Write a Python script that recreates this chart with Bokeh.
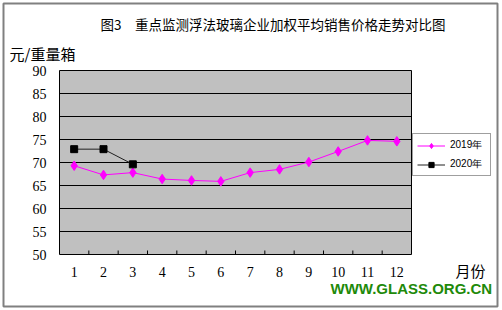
import math
from bokeh.plotting import figure
from bokeh.models import Legend, LegendItem, Range1d, ColumnDataSource
from bokeh.core.properties import value
from bokeh.embed import file_html
from bokeh.resources import INLINE

# ---------------- data ----------------
months = [1, 2, 3, 4, 5, 6, 7, 8, 9, 10, 11, 12]
month_labels = ["1", "2", "3", "4", "5", "6", "7", "8", "9", "10", "11", "12"]
price_2019 = [69.3, 67.3, 67.8, 66.4, 66.1, 65.9, 67.8, 68.5, 70.1, 72.4, 74.8, 74.6]
months_2020 = [1, 2, 3]
price_2020 = [72.9, 72.9, 69.6]
y_ticks = [50, 55, 60, 65, 70, 75, 80, 85, 90]
y_tick_labels = ["50", "55", "60", "65", "70", "75", "80", "85", "90"]
series_names = ["2019年", "2020年"]

title_text = "图3　重点监测浮法玻璃企业加权平均销售价格走势对比图"
unit_text = "元/重量箱"
xunit_text = "月份"
watermark = "WWW.GLASS.ORG.CN"

# ---------------- layout (page pixels) ----------------
W, H = 502, 310
PL, PR, PT, PB = 59, 411, 70, 254          # grey plotting area edges in px
x_lo, x_hi = months[0] - 0.5, months[-1] + 0.5
y_lo, y_hi = y_ticks[0], y_ticks[-1]
kx = (PR - PL) / (x_hi - x_lo)             # px per month
ky = (PB - PT) / (y_hi - y_lo)             # px per unit

p = figure(width=W, height=H, output_backend="svg", toolbar_location=None,
           x_range=Range1d(x_lo - PL / kx, x_hi + (W - PR) / kx),
           y_range=Range1d(y_lo - (H - PB) / ky, y_hi + PT / ky),
           x_axis_location=None, y_axis_location=None,
           min_border=0, min_border_left=0, min_border_right=0,
           min_border_top=0, min_border_bottom=0)
p.outline_line_color = None
p.background_fill_color = "white"
p.border_fill_color = "white"
p.xgrid.visible = False
p.ygrid.visible = False

def sx(px):
    return x_lo + (px - PL) / kx

def sy(py):
    return y_lo + (PB - py) / ky

# outer frame of the picture
p.quad(left=[sx(3)], right=[sx(497)], top=[sy(3)], bottom=[sy(306)],
       fill_color=None, line_color="#808080", line_width=2)

# grey plot area
p.quad(left=[x_lo], right=[x_hi], bottom=[y_lo], top=[y_hi],
       fill_color="#c0c0c0", line_color="black", line_width=1)

# horizontal grid lines
inner = y_ticks[1:-1]
p.segment(x0=[x_lo] * len(inner), x1=[x_hi] * len(inner), y0=inner, y1=inner,
          line_color="black", line_width=1)

# category tick marks (pointing up into the plot area)
bounds = [m + 0.5 for m in months[:-1]]
p.ray(x=bounds, y=[y_lo] * len(bounds), length=4, length_units="screen",
      angle=math.pi / 2, line_color="black", line_width=1)

# tick labels
p.text(x=[x_lo] * len(y_ticks), y=y_ticks, text=y_tick_labels, x_offset=-13,
       text_align="right", text_baseline="middle",
       text_font=value("Liberation Serif"), text_font_size="14px", text_color="black")
p.text(x=months, y=[y_lo] * len(months), text=month_labels, y_offset=17,
       text_align="center", text_baseline="middle",
       text_font=value("Liberation Serif"), text_font_size="14px", text_color="black")

# series
s19 = ColumnDataSource(dict(x=months, y=price_2019))
s20 = ColumnDataSource(dict(x=months_2020, y=price_2020))
l19 = p.line("x", "y", source=s19, line_color="#ff00ff", line_width=1)
m19 = p.scatter("x", "y", source=s19, marker="diamond", size=9.5,
                fill_color="#ff00ff", line_color="#ff00ff")
l20 = p.line("x", "y", source=s20, line_color="#202020", line_width=1)
m20 = p.scatter("x", "y", source=s20, marker="square", size=7,
                fill_color="black", line_color="black")

# texts
p.text(x=[sx(100)], y=[sy(23)], text=[title_text], text_align="left", text_baseline="middle",
       text_font=value("Noto Sans CJK SC"), text_font_size="13.5px", text_color="black")
p.text(x=[sx(9)], y=[sy(53)], text=[unit_text], text_align="left", text_baseline="middle",
       text_font=value("Noto Sans CJK SC"), text_font_size="15px", text_color="black")
p.text(x=[sx(455)], y=[sy(270)], text=[xunit_text], text_align="left", text_baseline="middle",
       text_font=value("Noto Sans CJK SC"), text_font_size="15px", text_color="black")
p.text(x=[sx(330)], y=[sy(288)], text=[watermark], text_align="left", text_baseline="middle",
       text_font=value("Liberation Sans"), text_font_size="15px", text_font_style="bold",
       text_color="#1e8a0a")

legend = Legend(items=[LegendItem(label=series_names[0], renderers=[l19, m19]),
                       LegendItem(label=series_names[1], renderers=[l20, m20])],
                location=(412, H - 176), orientation="vertical",
                padding=4, spacing=5, margin=0, glyph_width=28, glyph_height=13,
                label_height=13, label_width=36, label_standoff=5,
                label_text_font="Liberation Sans", label_text_font_size="10px",
                label_text_color="black",
                border_line_color="#404040", border_line_width=1.5,
                background_fill_color="white", background_fill_alpha=1)
p.add_layout(legend, "center")

open("out.html", "w").write(file_html(p, INLINE))
